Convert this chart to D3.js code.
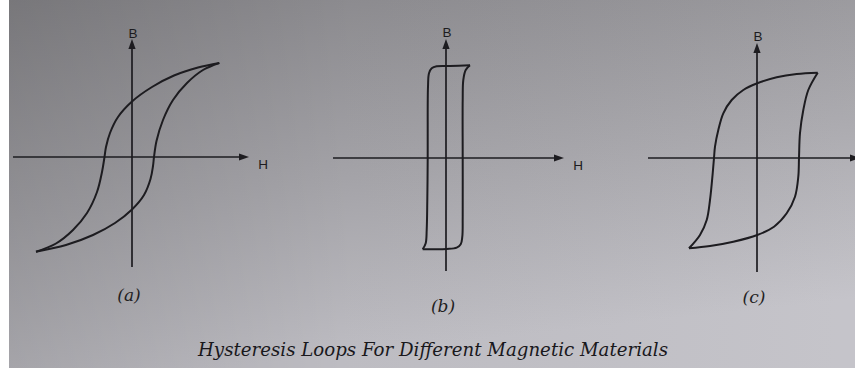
<!DOCTYPE html>
<html>
<head>
<meta charset="utf-8">
<script src="https://cdn.jsdelivr.net/npm/d3@7"></script>
<style>
  html, body { margin: 0; padding: 0; background: #ffffff; }
  svg { display: block; }
</style>
</head>
<body>
<svg id="fig" width="855" height="368"></svg>
<script>
// B–H hysteresis loops, in relative units (H, B).
// Each loop: descending branch (from +Hmax to -Hmax) and ascending branch back.
const loopA_down = [
  [8.73, 9.40], [6.60, 8.95], [4.20, 8.15], [2.00, 7.00], [0.00, 5.55], [-1.40, 4.00],
  [-2.20, 2.40], [-2.60, 1.00], [-2.75, 0.00], [-3.00, -1.50], [-3.50, -3.50],
  [-4.50, -5.60], [-5.90, -7.30], [-7.60, -8.65], [-9.60, -9.47]
];
const loopA_up = [
  [-9.60, -9.47], [-6.60, -8.80], [-3.90, -7.80], [-1.70, -6.60], [0.00, -5.25],
  [1.20, -3.80], [1.85, -2.20], [2.10, -0.90], [2.20, 0.00], [2.45, 1.60],
  [3.10, 3.70], [4.10, 5.70], [5.50, 7.40], [7.10, 8.70], [8.73, 9.40]
];

const loopB_down = [
  [2.40, 9.27], [0.40, 9.20], [-0.93, 9.17], [-1.43, 8.97], [-1.70, 8.47], [-1.80, 7.13],
  [-1.83, 2.47], [-1.83, 0.00], [-1.87, -4.20], [-1.93, -7.20], [-2.03, -8.53], [-2.33, -9.13]
];
const loopB_up = [
  [-2.33, -9.13], [-1.27, -9.13], [0.07, -9.10], [1.07, -8.97], [1.47, -8.63], [1.63, -7.87],
  [1.67, -5.87], [1.67, 0.00], [1.67, 5.80], [1.73, 7.80], [1.97, 8.80], [2.40, 9.27]
];

const loopC_down = [
  [6.07, 8.53], [3.97, 8.40], [1.97, 8.07], [0.03, 7.47], [-1.37, 6.80], [-2.53, 5.80],
  [-3.37, 4.47], [-3.87, 2.80], [-4.20, 1.13], [-4.30, 0.00], [-4.43, -1.53],
  [-4.70, -4.20], [-5.03, -6.20], [-5.70, -7.70], [-6.80, -9.03]
];
const loopC_up = [
  [-6.80, -9.03], [-4.70, -8.80], [-2.37, -8.37], [0.03, -7.70], [1.70, -6.87],
  [2.97, -5.53], [3.80, -3.87], [4.13, -1.87], [4.20, 0.00], [4.30, 2.50],
  [4.63, 4.80], [5.13, 6.80], [6.07, 8.53]
];

const panelLabels = ["(a)", "(b)", "(c)"];
const axisLabels = ["H", "B"];
const title = "Hysteresis Loops For Different Magnetic Materials";

// Layout of the three small diagrams (pixels) and the extent of each pair of axes (units).
// The third diagram's H axis runs off the right edge of the page, so it has no H letter.
const layout = [
  { cx: 132, cy: 157, h: [-11.9, 11.7], b: [-11.0, 11.8], labY: 295, bLabDy: -124, hLabDx: 131, showH: true },
  { cx: 446, cy: 158, h: [-11.3, 11.8], b: [-11.3, 11.9], labY: 306, bLabDy: -126, hLabDx: 132, showH: true },
  { cx: 757, cy: 158, h: [-10.9, 10.3], b: [-11.4, 11.5], labY: 297, bLabDy: -122, hLabDx: 130, showH: false }
];
const loops = [
  [loopA_down, loopA_up],
  [loopB_down, loopB_up],
  [loopC_down, loopC_up]
];

const ink = "#1d1c20";
const svg = d3.select("#fig");

// Page background: photographed paper, darker at the top-left.
const defs = svg.append("defs");
const gV = defs.append("linearGradient").attr("id", "paperV")
  .attr("x1", 0).attr("y1", 0).attr("x2", 0.25).attr("y2", 1);
gV.append("stop").attr("offset", "0%").attr("stop-color", "#8b8a8e");
gV.append("stop").attr("offset", "55%").attr("stop-color", "#a9a8ad");
gV.append("stop").attr("offset", "100%").attr("stop-color", "#c3c2c8");
const gH = defs.append("linearGradient").attr("id", "paperH")
  .attr("x1", 0).attr("y1", 0).attr("x2", 1).attr("y2", 0);
gH.append("stop").attr("offset", "0%").attr("stop-color", "#000").attr("stop-opacity", 0.14);
gH.append("stop").attr("offset", "40%").attr("stop-color", "#000").attr("stop-opacity", 0.03);
gH.append("stop").attr("offset", "100%").attr("stop-color", "#fff").attr("stop-opacity", 0.04);

svg.append("rect").attr("x", 9).attr("y", 0).attr("width", 846).attr("height", 368)
  .attr("fill", "url(#paperV)");
svg.append("rect").attr("x", 9).attr("y", 0).attr("width", 846).attr("height", 368)
  .attr("fill", "url(#paperH)");

const line = d3.line().curve(d3.curveCatmullRom.alpha(0.5));

layout.forEach((p, i) => {
  const x = d3.scaleLinear().domain([-10, 10]).range([p.cx - 100, p.cx + 100]);
  const y = d3.scaleLinear().domain([-10, 10]).range([p.cy + 100, p.cy - 100]);
  const g = svg.append("g");

  // H axis with arrowhead
  const hx0 = x(p.h[0]), hx1 = x(p.h[1]), y0 = y(0);
  g.append("line").attr("x1", hx0).attr("y1", y0).attr("x2", hx1 - 6).attr("y2", y0)
    .attr("stroke", ink).attr("stroke-width", 1.7);
  g.append("path")
    .attr("d", `M${hx1},${y0}L${hx1 - 10},${y0 - 3.6}L${hx1 - 10},${y0 + 3.6}Z`)
    .attr("fill", ink);

  // B axis with arrowhead
  const bx = x(0), by0 = y(p.b[0]), by1 = y(p.b[1]);
  g.append("line").attr("x1", bx).attr("y1", by0).attr("x2", bx).attr("y2", by1 + 6)
    .attr("stroke", ink).attr("stroke-width", 1.7);
  g.append("path")
    .attr("d", `M${bx},${by1}L${bx - 3.6},${by1 + 10}L${bx + 3.6},${by1 + 10}Z`)
    .attr("fill", ink);

  // Axis letters
  g.append("text").attr("x", bx + 1).attr("y", p.cy + p.bLabDy + 4.5)
    .attr("text-anchor", "middle")
    .attr("font-family", "Liberation Sans, Arial, sans-serif")
    .attr("font-size", 13.5).attr("fill", ink).text(axisLabels[1]);
  if (p.showH) {
    g.append("text").attr("x", p.cx + p.hLabDx).attr("y", p.cy + 11.5)
      .attr("text-anchor", "middle")
      .attr("font-family", "Liberation Sans, Arial, sans-serif")
      .attr("font-size", 13.5).attr("fill", ink).text(axisLabels[0]);
  }

  // Loop branches
  loops[i].forEach(branch => {
    g.append("path")
      .attr("d", line(branch.map(d => [x(d[0]), y(d[1])])))
      .attr("fill", "none").attr("stroke", ink)
      .attr("stroke-width", 2).attr("stroke-linejoin", "round");
  });

  // Sub-figure label
  g.append("text").attr("x", p.cx - 3).attr("y", p.labY + 6)
    .attr("text-anchor", "middle")
    .attr("font-family", "DejaVu Serif, serif").attr("font-style", "italic")
    .attr("font-size", 17).attr("fill", "#1f1e22").text(panelLabels[i]);
});

// Caption
svg.append("text").attr("x", 198).attr("y", 356)
  .attr("textLength", 470).attr("lengthAdjust", "spacingAndGlyphs")
  .attr("font-family", "DejaVu Serif, serif").attr("font-style", "italic")
  .attr("font-size", 18).attr("fill", "#19181c").text(title);
</script>
</body>
</html>
